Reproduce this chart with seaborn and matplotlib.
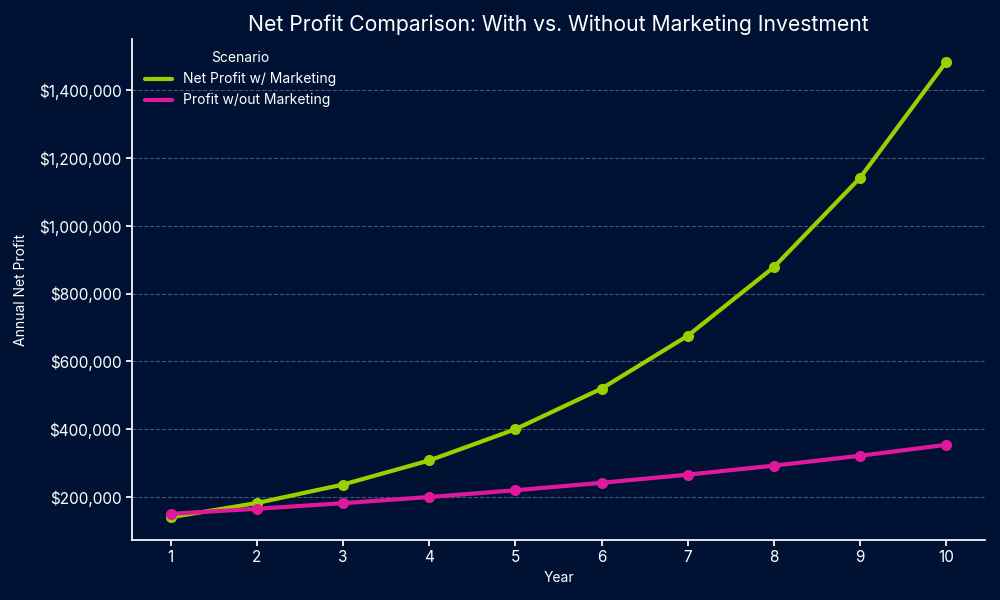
import matplotlib
matplotlib.use("Agg")
import matplotlib.pyplot as plt
import matplotlib.ticker as mticker
from matplotlib.lines import Line2D
import seaborn as sns
import pandas as pd

years = [1, 2, 3, 4, 5, 6, 7, 8, 9, 10]
with_marketing = [140000, 182000, 236600, 307600, 399900, 519800, 675800, 878500, 1142000, 1484600]
without_marketing = [150000, 165000, 181500, 199700, 219600, 241600, 265700, 292300, 321500, 353700]
series_names = ["Net Profit w/ Marketing", "Profit w/out Marketing"]
colors = ["#9BD000", "#E0189B"]

df = pd.DataFrame({
    "Year": years * 2,
    "Profit": with_marketing + without_marketing,
    "Scenario": [series_names[0]] * len(years) + [series_names[1]] * len(years),
})

BG = "#001233"
FG = "white"
sns.set_theme(style="white")
plt.rcParams["font.family"] = ["Inter", "DejaVu Sans"]

fig, ax = plt.subplots(figsize=(10, 6), dpi=100)
fig.patch.set_facecolor(BG)
ax.set_facecolor(BG)

sns.lineplot(data=df, x="Year", y="Profit", hue="Scenario", ax=ax,
             palette=colors, linewidth=3, marker="o",
             markersize=8, markeredgewidth=0)

ax.yaxis.set_major_formatter(mticker.FuncFormatter(lambda v, p: f"${v:,.0f}"))
ax.set_xticks(years)
ax.grid(axis="y", linestyle="--", color="#7a8599", alpha=0.6, linewidth=0.8)
ax.set_axisbelow(True)
sns.despine(ax=ax)
for s in ["left", "bottom"]:
    ax.spines[s].set_color(FG)
ax.tick_params(colors=FG, labelsize=11, left=True, bottom=True, length=4)
ax.set_xlabel("Year", color=FG, fontsize=10)
ax.set_ylabel("Annual Net Profit", color=FG, fontsize=10, labelpad=8)
ax.set_title("Net Profit Comparison: With vs. Without Marketing Investment",
             color=FG, fontsize=15.2)

handles = [Line2D([], [], color=c, linewidth=3) for c in colors]
leg = ax.legend(handles, series_names, title="Scenario", frameon=False,
                loc="upper left", fontsize=10, title_fontsize=10)
for t in leg.get_texts():
    t.set_color(FG)
leg.get_title().set_color(FG)

fig.subplots_adjust(left=0.132, right=0.985, top=0.935, bottom=0.1)
fig.savefig("out.png", dpi=100, facecolor=BG)
